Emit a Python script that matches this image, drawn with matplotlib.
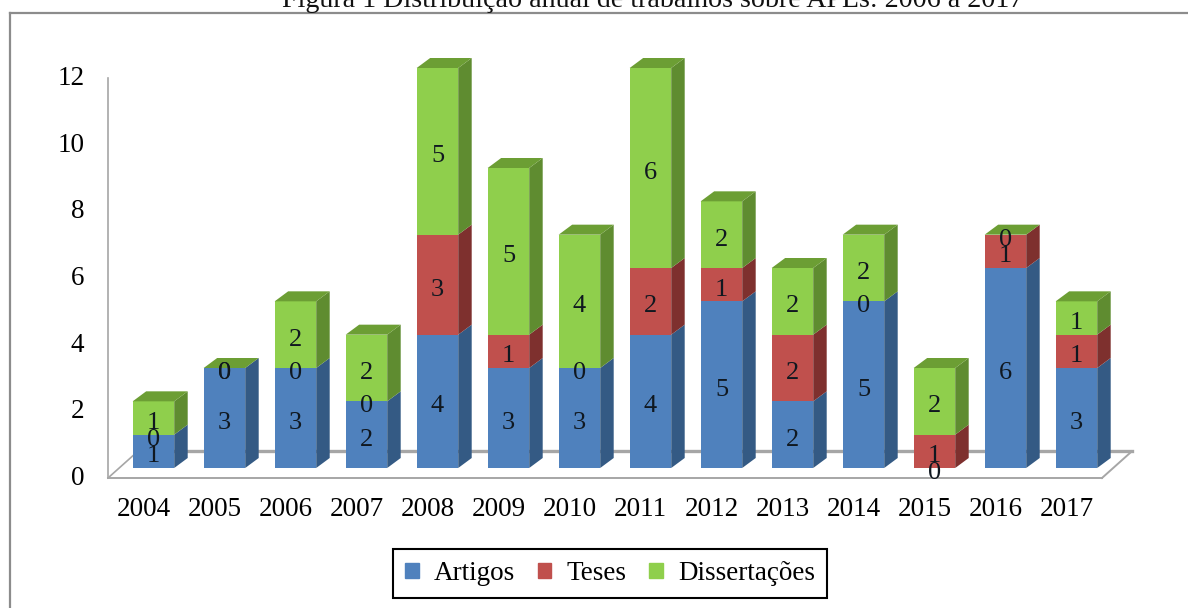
import matplotlib
matplotlib.use("Agg")
import matplotlib.pyplot as plt
from matplotlib.lines import Line2D
from matplotlib.patches import Patch
from matplotlib.transforms import ScaledTranslation

# Data
anos = ["2004", "2005", "2006", "2007", "2008", "2009", "2010",
        "2011", "2012", "2013", "2014", "2015", "2016", "2017"]
artigos = [1, 3, 3, 2, 4, 3, 3, 4, 5, 2, 5, 0, 6, 3]
teses = [0, 0, 0, 0, 3, 1, 0, 2, 1, 2, 0, 1, 1, 1]
dissertacoes = [1, 0, 2, 2, 5, 5, 4, 6, 2, 2, 2, 2, 0, 1]
y_ticks = [0, 2, 4, 6, 8, 10, 12]
series_names = ["Artigos", "Teses", "Dissertações"]

titulo = "Figura 1 Distribuição anual de trabalhos sobre APLs: 2006 a 2017"

front = ["#4F81BD", "#C0504D", "#8FCF4C"]
side = ["#345A84", "#7E302E", "#5F8C30"]
top_col = ["#3F6A9C", "#9A3B39", "#6C9E34"]

W, H = 1188, 608
plt.rcParams["font.family"] = ["Liberation Serif", "DejaVu Serif"]

fig = plt.figure(figsize=(W / 100, H / 100), dpi=100)
ax = fig.add_axes([108 / W, 1 - 478 / H, 994 / W, 400 / H])
ax.set_xlim(-0.5, 13.5)
ax.set_ylim(0, 12)
ax.patch.set_alpha(0)

# 3d look of the old office chart
shift_x, shift_y = 0.14, 0.3
bar_w = 0.585
dx, dy = 0.19, 0.3
floor_dx, floor_dy = 0.42, 0.8
label_drop = 0.15

# floor
ax.plot([-0.5 + floor_dx, 13.5 + floor_dx], [floor_dy, floor_dy], color="#A6A6A6", lw=2.4,
        clip_on=False, zorder=1)
ax.plot([-0.5, -0.5 + floor_dx], [0, floor_dy], color="#A6A6A6", lw=1.2, clip_on=False, zorder=1)
ax.plot([13.5, 13.5 + floor_dx], [0, floor_dy], color="#A6A6A6", lw=1.4, clip_on=False, zorder=1)

stack = [artigos, teses, dissertacoes]
for i in range(len(anos)):
    bottom = shift_y
    left = i + shift_x - bar_w / 2
    right = left + bar_w
    for s, vals in enumerate(stack):
        v = vals[i]
        ax.bar(left, v, bar_w, bottom=bottom, align="edge", color=front[s], clip_on=False, zorder=3)
        if v > 0:
            ax.fill([right, right + dx, right + dx, right],
                    [bottom, bottom + dy, bottom + v + dy, bottom + v],
                    color=side[s], lw=0, clip_on=False, zorder=3)
        bottom += v
    # top face always belongs to the last series
    ax.fill([left, left + dx, right + dx, right],
            [bottom, bottom + dy, bottom + dy, bottom],
            color=top_col[2], lw=0, clip_on=False, zorder=3)
    # value labels
    bottom = shift_y
    for s, vals in enumerate(stack):
        v = vals[i]
        ax.text(i + shift_x, bottom + v / 2 - label_drop, str(v), ha="center", va="center",
                fontsize=19, color="#101820", clip_on=False, zorder=5)
        bottom += v

for name in ["top", "right"]:
    ax.spines[name].set_visible(False)
ax.spines["left"].set_color("#A6A6A6")
ax.spines["bottom"].set_color("#A6A6A6")
ax.spines["left"].set_linewidth(1.2)
ax.spines["bottom"].set_linewidth(1.4)

ax.set_xticks(range(len(anos)))
ax.set_xticklabels(anos, fontsize=19.5)
ax.set_yticks(y_ticks)
ax.set_yticklabels([str(t) for t in y_ticks], fontsize=19.5)
ax.tick_params(axis="both", length=0)
ax.tick_params(axis="x", pad=14)
ax.tick_params(axis="y", pad=17)
for lab in ax.get_yticklabels():
    lab.set_transform(lab.get_transform() + ScaledTranslation(0, 2.5 / 100, fig.dpi_scale_trans))

handles = [Patch(color=c, label=n) for c, n in zip(front, series_names)]
leg = ax.legend(handles=handles, ncol=3, loc="center", fontsize=19.5,
                bbox_to_anchor=((610 - 108) / 994, (478 - 573.5) / 400),
                frameon=True, fancybox=False, framealpha=1, edgecolor="black",
                handlelength=0.5, handleheight=0.5, handletextpad=0.55,
                columnspacing=0.85, borderpad=0.45)
leg.get_frame().set_linewidth(1.5)

# outer frame of the chart, runs off the right and bottom of the scan
fig.add_artist(Line2D([9.5 / W, 1], [1 - 13 / H, 1 - 13 / H], color="#8C8C8C", lw=1.6))
fig.add_artist(Line2D([9.5 / W, 9.5 / W], [0, 1 - 13 / H], color="#8C8C8C", lw=1.6))

# title is cut at the top of the picture
fig.text(653 / W, 1 - 7 / H, titulo, ha="center", va="baseline", fontsize=20.2, color="#111111")

fig.savefig("out.png", dpi=100)
